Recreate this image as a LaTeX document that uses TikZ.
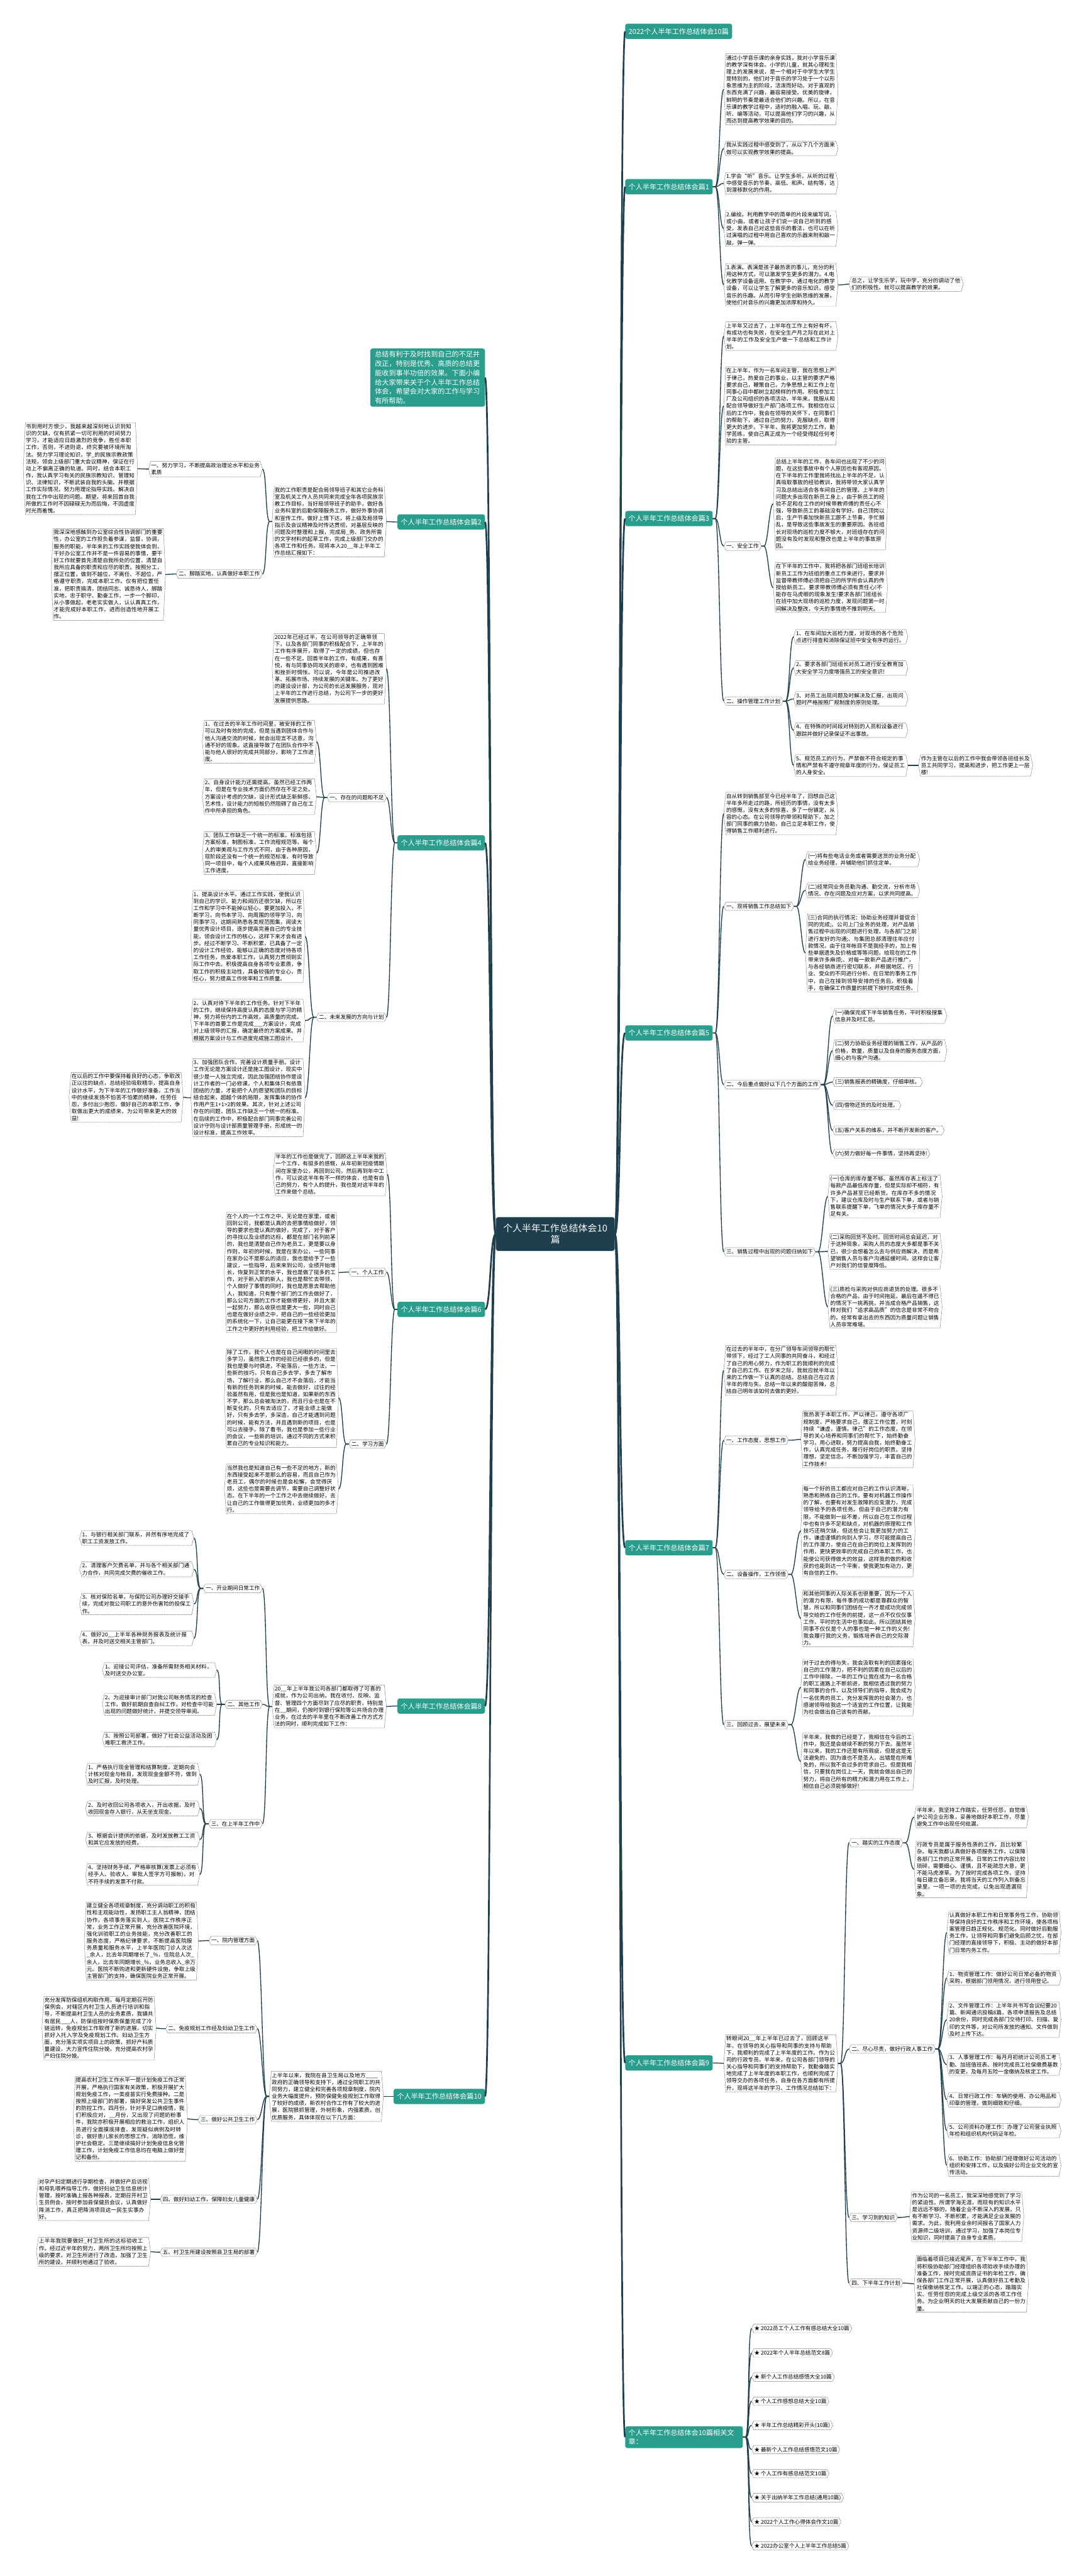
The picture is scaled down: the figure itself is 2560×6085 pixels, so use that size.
\documentclass[tikz,border=0pt]{standalone}
\usepackage{fontspec}
\setmainfont{Noto Sans CJK SC}
\XeTeXlinebreaklocale "zh"
\XeTeXlinebreakskip = 0pt plus 1pt
\definecolor{tealc}{HTML}{2A9D8C}
\definecolor{darkc}{HTML}{1F3E4E}
\definecolor{linec}{HTML}{1F3E4E}
\definecolor{hexc}{HTML}{555555}
\tikzset{
 tb/.style={text width=258pt, align=left, inner xsep=1pt, inner ysep=3pt, outer xsep=5pt, outer ysep=0pt, font=\fontsize{12.8pt}{16.6pt}\selectfont},
 sb/.style={align=left, inner xsep=1pt, inner ysep=4pt, outer xsep=5pt, outer ysep=0pt, font=\fontsize{12.8pt}{16.6pt}\selectfont},
 lab/.style={fill=tealc, text=white, rounded corners=5pt, inner xsep=8pt, inner ysep=0pt, minimum height=36pt, font=\fontsize{16.5pt}{20pt}\selectfont},
 hexln/.style={draw=hexc, line width=0.7pt, dash pattern=on 1.2pt off 0.8pt},
 cn/.style={draw=linec, line width=2pt},
 trunk/.style={draw=linec, line width=4pt},
}
\newcommand\hexa[1]{\draw[hexln] ([xshift=5pt]#1.north west) -- ([xshift=-5pt]#1.north east) -- (#1.east) -- ([xshift=-5pt]#1.south east) -- ([xshift=5pt]#1.south west) -- (#1.west) -- cycle;}
\newcommand\bxR[4]{\node[tb,anchor=west] (#1) at (#2,#3) {#4};\hexa{#1}}
\newcommand\bxL[4]{\node[tb,anchor=east] (#1) at (#2,#3) {#4};\hexa{#1}}
\newcommand\sxR[4]{\node[sb,anchor=west] (#1) at (#2,#3) {#4};\hexa{#1}}
\newcommand\sxL[4]{\node[sb,anchor=east] (#1) at (#2,#3) {#4};\hexa{#1}}
\newcommand\cR[2]{\draw[cn] (#1.east) -- ++(6,0) .. controls +(10,0) and +(-10,0) .. (#2.west);}
\newcommand\cL[2]{\draw[cn] (#1.west) -- ++(-6,0) .. controls +(-10,0) and +(10,0) .. (#2.east);}
\begin{document}
\begin{tikzpicture}[x=1pt,y=-1pt]
\useasboundingbox (0,0) rectangle (2560,6085);
% center
\node[fill=darkc, text=white, rounded corners=6pt, minimum width=281pt, minimum height=80pt, text width=262pt, align=center, font=\fontsize{22pt}{27pt}\selectfont] (c) at (1312,2915) {个人半年工作总结体会10\\篇};
% ===== RIGHT =====
\node[lab,anchor=west] (title) at (1477,74) {2022个人半年工作总结体会10篇};
\node[lab,anchor=west] (b1) at (1477,441) {个人半年工作总结体会篇1};
\node[lab,anchor=west] (b3) at (1477,1225) {个人半年工作总结体会篇3};
\node[lab,anchor=west] (b5) at (1477,2440) {个人半年工作总结体会篇5};
\node[lab,anchor=west] (b7) at (1477,3656) {个人半年工作总结体会篇7};
\node[lab,anchor=west] (b9) at (1477,4873) {个人半年工作总结体会篇9};
\node[lab,anchor=west,text width=262pt,align=left,inner ysep=8pt] (rel) at (1477,5757) {个人半年工作总结体会10篇相关文\\章：};
% b1
\bxR{b1a}{1710}{211}{通过小学音乐课的亲身实践，我对小学音乐课的教学深有体会。小学的儿童，就其心理和生理上的发展来说，是一个相对于中学生大学生是特别的，他们对于音乐的学习处于一个以形象思维为主的阶段，活泼而好动。对于直观的东西充满了兴趣，最容易接受。优美的旋律，鲜明的节奏是最适合他们的兴趣。所以，在音乐课的教学过程中，适时的融入唱、玩、敲、听、编等活动，可以提高他们学习的兴趣，从而达到提高教学效果的目的。}
\bxR{b1b}{1710}{351}{我从实践过程中感受到了，从以下几个方面来做可以实现教学效果的提高。}
\bxR{b1c}{1710}{433}{1.学会“听”音乐。让学生多听，从听的过程中感受音乐的节奏、高低、和声、结构等，达到潜移默化的作用。}
\bxR{b1d}{1710}{540}{2.编绘。利用教学中的简单的片段来编写词，或小曲，或者让孩子们说一说自己听到的感受，发表自己对这些音乐的看法，也可以在听过演唱的过程中用自己喜欢的乐器来附和敲一敲，弹一弹。}
\bxR{b1e}{1710}{673}{3.表演。表演是孩子最热衷的事儿，充分的利用这种方式，可以激发学生更多的潜力。4.电化教学设备运用。在教学中，通过电化的教学设备，可以让学生了解更多的音乐知识，感受音乐的乐趣。从而引导学生创新思维的发展，使他们对音乐的兴趣更加浓厚和持久。}
\bxR{b1e1}{2006}{671}{总之，让学生乐学，玩中学，充分的调动了他们的积极性。就可以提高教学的效果。}
% b3
\bxR{b3a}{1710}{794}{上半年又过去了，上半年在工作上有好有坏，有成功也有失败，在安全生产月之际在此对上半年的工作及安全生产做一下总结和工作计划。}
\bxR{b3b}{1710}{959}{在上半年，作为一名车间主管，我在思想上严于律己，热爱自己的事业，以主管的要求严格要求自己，鞭策自己，力争思想上和工作上在同事心目中都树立起榜样的作用。积极参加工厂及公司组织的各项活动，半年来，我服从和配合领导做好生产部门各项工作。我相信在以后的工作中，我会在领导的关怀下，在同事们的帮助下，通过自己的努力，克服缺点，取得更大的进步。下半年，我将更加努力工作，勤学苦练，使自己真正成为一个经受得起任何考验的主管。}
\sxR{b3c}{1710}{1290}{一、安全工作}
\bxR{b3c1}{1827}{1190}{总结上半年的工作，各车间也出现了不少的问题，在这些事故中有个人原因也有客观原因。在下半年的工作里我将找出上半年的不足，认真吸取事故的经验教训，我将带领大家认真学习及总结出适合各车间自己的管理。上半年的问题大多出现在新员工身上，由于新员工的经验不足和在工作的时候带教师傅的责任心不强，导致新员工的基础没有学好。自己顶岗以后，生产节奏加快新员工跟不上节奏，手忙脚乱，是导致这些事故发生的重要原因。各班组长对现场的巡检力度不够大，对班组存在的问题没有及时发现和整改也是上半年的事故原因。}
\bxR{b3c2}{1827}{1388}{在下半年的工作中，我将把各部门班组长培训新员工工作为班组的重点工作来进行，要求并监督带教师傅必须把自己的所学所会认真的传授给新员工。要求带教师傅必须有责任心!不能存在马虎眼的现象发生!要求各部门班组长在班中加大现场的巡检力度，发现问题第一时间解决及整改，今天的事情绝不推到明天。}
\sxR{b3d}{1710}{1656}{二、操作管理工作计划}
\bxR{b3d1}{1875}{1504}{1、在车间加大巡检力度，对现场的各个危险点进行排查和消除保证班中安全有序的运行。}
\bxR{b3d2}{1875}{1578}{2、要求各部门班组长对员工进行安全教育加大安全学习力度增强员工的安全意识!}
\bxR{b3d3}{1875}{1651}{3、对员工出现问题及时解决及汇报，出现问题时严格按照厂规制度的原则处理。}
\bxR{b3d4}{1875}{1725}{4、在特殊的时间段对特别的人员和设备进行跟踪并做好记录保证不出事故。}
\bxR{b3d5}{1875}{1808}{5、规范员工的行为，严禁做不符合规定的事情和严禁有不遵守规章年度的行为，保证员工的人身安全。}
\bxR{b3d5a}{2170}{1808}{作为主管在以后的工作中我会带领各班组长及员工共同学习，提高和进步，把工作更上一层楼!}
% b5
\bxR{b5a}{1710}{1922}{自从转到销售部至今已经半年了，回想自己这半年多所走过的路，所经历的事情，没有太多的感慨，没有太多的惊喜，多了一份镇定，从容的心态。在公司领导的带领和帮助下，加之部门同事的鼎力协助，自己立足本职工作，使得销售工作顺利进行。}
\sxR{b5b}{1710}{2141}{一、现将销售工作总结如下}
\bxR{b5b1}{1903}{2030}{(一)将有些电话业务或者需要送货的业务分配给业务经理，并辅助他们抓住定单。}
\bxR{b5b2}{1903}{2103}{(二)经常同业务员勤沟通、勤交流，分析市场情况、存在问题及应对方案，以求共同提高。}
\bxR{b5b3}{1903}{2251}{(三)合同的执行情况：协助业务经理并督促合同的完成;、公司上门业务的处理，对产品销售过程中出现的问题进行处理，与各部门之前进行友好的沟通;、与集团总部清理往年应付款情况，由于往年帐目不是我经手的，加上有些单据遗失及价格或等等问题，给现在的工作带来许多麻烦;、对每一款新产品进行推广，与各经销商进行密切联系，并根据地区、行业、受众的不同进行分析、在日常的事务工作中，自己在接到领导安排的任务后，积极着手，在确保工作质量的前提下按时完成任务。}
\sxR{b5c}{1710}{2562}{二、今后重点做好以下几个方面的工作}
\bxR{b5c1}{1967}{2400}{(一)确保完成下半年销售任务，平时积极搜集信息并及时汇总。}
\bxR{b5c2}{1967}{2482}{(二)努力协助业务经理的销售工作，从产品的价格，数量，质量以及自身的服务态度方面，细心的与客户沟通。}
\sxR{b5c3}{1967}{2556}{(三)销售报表的精确度，仔细审核。}
\sxR{b5c4}{1967}{2611}{(四)借物还货的及时处理。}
\sxR{b5c5}{1967}{2670}{(五)客户关系的维系，并不断开发新的客户。}
\sxR{b5c6}{1967}{2725}{(六)努力做好每一件事情，坚持再坚持!}
\sxR{b5d}{1710}{2957}{三、销售过程中出现的问题归纳如下}
\bxR{b5d1}{1956}{2826}{(一)仓库的库存量不够。虽然库存表上标注了每款产品最低库存量，但是实际却不相符，有许多产品甚至已经断货。在库存不多的情况下，建议仓库及时与生产联系下单，或者与销售联系提醒下单，飞单的情况大多于库存量不足有关。}
\bxR{b5d2}{1956}{2956}{(二)采购回货不及时。回货时间总会延迟，对于这种现象，采购人员的态度大多都是事不关已，很少会想着怎么去与供应商解决，而是希望销售人员与客户沟通延缓时间。这样会让客户对我们的信誉度降低。}
\bxR{b5d3}{1956}{3087}{(三)质检与采购对供应商退货的处理。很多不合格的产品，由于时间拖延，最后在逼不得已的情况下一挑再挑，并当成合格产品销售，这样对我们“追求高品质”的信念是非常不吻合的。经常有拿出去的东西因为质量问题让销售人员非常难堪。}
% b7
\bxR{b7a}{1710}{3237}{在过去的半年中，在分厂领导车间领导的帮忙带领下，经过了工人同事的共同奋斗，和经过了自己的用心努力，作为职工的我顺利的完成了自己的工作。在岁末之际，我就应就半年以来的工作做一下认真的总结。总结自己在过去半年的得与失，总结一年以来的酸甜苦辣，总结自己明年该如何去做的更好。}
\sxR{b7b}{1710}{3402}{一、工作态度，思想工作}
\bxR{b7b1}{1892}{3400}{我热衷于本职工作，严以律己，遵守各项厂规制度，严格要求自己，摆正工作位置，时刻持续“谦虚，谨慎，律己”的工作态度，在领导的关心培养和同事们的帮忙下，始终勤奋学习，用心进取，努力提高自我，始终勤奋工作，认真完成任务，履行好岗位的职责。坚持理想，坚定信念。不断加强学习，丰富自己的工作技术!}
\sxR{b7c}{1710}{3719}{二、设备操作，工作领悟}
\bxR{b7c1}{1892}{3616}{每一个好的员工都应对自己的工作认识清晰，熟悉和熟练自己的工作。要有对机器工作操作的了解，也要有对发生故障的应变潜力，完成领导给予的各项任务。但由于自己的潜力有限，不能做到一丝不差，所以自己在工作过程中也有许多不足和缺点，对机器的原理和工作技巧还稍欠缺，但这些会让我更加努力的工作，谦虚谨慎的向别人学习，尽可能提高自己的工作潜力，使自己在自己的岗位上发挥到的作用，更快更效率的完成自己的本职工作，也能使公司获得做大的效益，这样我的做的和收获的也能到达一个平衡，使我更加有动力，更有自信的工作。}
\bxR{b7c2}{1892}{3823}{和其他同事的人际关系也很重要，因为一个人的潜力有限，每件事的成功都是靠群众的智慧，所以和同事们团结在一齐才是成功完成领导交给的工作任务的前提，这一点不仅仅仅事工作，平时的生活中也事如此，所以团结其他同事不仅仅是个人的事也是一种工作的义务!我会履行我的义务，锻炼培养自己的交际潜力。}
\sxR{b7d}{1710}{4074}{三、回顾过去，展望未来}
\bxR{b7d1}{1892}{3986}{对于过去的得与失，我会汲取有利的因素强化自己的工作潜力，把不利的因素在自己以后的工作中排除，一年的工作让我在成为一名合格的职工道路上不断前进，我相信透过我的努力和同事的合作，以及领导们的指导，我会成为一名优秀的员工，充分发挥我的社会潜力，也感谢领导给我这一个适宜的工作位置，让我能为社会做出自己该有的贡献。}
\bxR{b7d2}{1892}{4161}{半年来，我做的已经是了，我相信在今后的工作中，我还是会继续不断的努力下去。虽然半年以来，我的工作还是有所瑕疵，但是这是无法避免的，因为谁也不是圣人，出错是在所难免的，所以我不会过多的苛求自己。但是我相信，只要我在岗位上一天，我就会做出自己的努力，将自己所有的精力和潜力用在工作上，相信自己必须能够做好!}
% b9
\bxR{b9a}{1710}{4874}{转眼间20\_\_年上半年已过去了，回顾这半年，在领导的关心指导和同事的支持与帮助下，我顺利的完成了上半年度的工作。作为公司的行政专员，半年来，在公司各部门领导的关心指导和同事们的支持帮助下，我勤奋踏实地完成了上半年度的本职工作，也顺利完成了领导交办的各项任务，自身在各方面都有所提升，现将这半年的学习、工作情况总结如下：}
\sxR{b9b}{2006}{4353}{一、踏实的工作态度}
\bxR{b9b1}{2160}{4292}{半年来，我坚持工作踏实，任劳任怨，自觉维护公司企业形象，妥善地做好本职工作，尽量避免工作中出现任何纰漏。}
\bxR{b9b2}{2160}{4416}{行政专员是属于服务性质的工作，且比较繁杂。每天我都认真做好各项服务工作，以保障各部门工作的正常开展。日常的工作内容比较琐碎，需要细心、谨慎，且不能疏忽大意，更不能马虎潦草。为了按时完成各项工作，坚持每日建立备忘录。我将当天的工作列入到备忘录里，一项一项的去完成，以免出现遗漏现象。}
\sxR{b9c}{2006}{4840}{二、尽心尽责，做好行政人事工作}
\bxR{b9c1}{2237}{4565}{认真做好本职工作和日常事务性工作，协助领导保持良好的工作秩序和工作环境，使各项档案管理日趋正规化、规范化。同时做好后勤服务工作，让领导和同事们避免后顾之忧，在部门经理的直接领导下，积极、主动的做好本部门日常内务工作。}
\bxR{b9c2}{2237}{4672}{1、物资管理工作：做好公司日常必备的物资采购，根据部门领用情况，进行领用登记。}
\bxR{b9c3}{2237}{4771}{2、文件管理工作：上半年共书写会议纪要20篇、新闻通讯投稿8篇，各项申请报告及总结20余份，同时完成各部门交待打印、扫描、复印的文件等，对公司所发放的通知、文件做到及时上传下达。}
\bxR{b9c4}{2237}{4877}{3、人事管理工作：每月月初统计公司员工考勤、加班值班表、按时完成员工社保缴费基数的变更，及每月五险一金缴纳及核定工作。}
\bxR{b9c5}{2237}{4960}{4、日常行政工作：车辆的使用、办公用品和印章的管理，做到细致和仔细。}
\bxR{b9c6}{2237}{5033}{5、公司资料办理工作：办理了公司营业执照年检和组织机构代码证年检。}
\bxR{b9c7}{2237}{5115}{6、协助工作：协助部门经理做好公司活动的组织和安排工作，以及搞好公司企业文化的宣传活动。}
\sxR{b9d}{2006}{5238}{三、学习到的知识}
\bxR{b9d1}{2149}{5236}{作为公司的一名员工，我深深地感觉到了学习的紧迫性。所谓学海无涯，而现有的知识水平是远远不够的，随着企业不断深入的发展，只有不断学习、不断积累，才能满足企业发展的需求。为此，我利用业余时间报名了国家人力资源师二级培训，通过学习，加强了本岗位专业知识，同时提高了自身专业素质。}
\sxR{b9e}{2006}{5393}{四、下半年工作计划}
\bxR{b9e1}{2160}{5395}{面临着项目已接近尾声，在下半年工作中，我将积极协助部门经理组织各项验收手续办理的准备工作，按时完成资质证书的年检工作，确保各部门工作正常开展，认真做好员工考勤及社保缴纳核定工作。以端正的心态，踏踏实实、任劳任怨的完成上级交派的各项工作任务。为企业明天的壮大发展贡献自己的一份力量。}
% related
\sxR{rel1}{1776}{5500}{★ 2022员工个人工作有感总结大全10篇}
\sxR{rel2}{1776}{5558}{★ 2022年个人半年总结范文8篇}
\sxR{rel3}{1776}{5615}{★ 新个人工作总结感悟大全10篇}
\sxR{rel4}{1776}{5672}{★ 个人工作感想总结大全10篇}
\sxR{rel5}{1776}{5729}{★ 半年工作总结精彩开头(10篇)}
\sxR{rel6}{1776}{5786}{★ 最新个人工作总结感悟范文10篇}
\sxR{rel7}{1776}{5843}{★ 个人工作有感总结范文10篇}
\sxR{rel8}{1776}{5900}{★ 关于出纳半年工作总结(通用10篇)}
\sxR{rel9}{1776}{5957}{★ 2022个人工作心得体会作文10篇}
\sxR{rel10}{1776}{6014}{★ 2022办公室个人上半年工作总结5篇}
% ===== LEFT =====
\node[fill=tealc, text=white, rounded corners=5pt, anchor=east, text width=249pt, align=left, inner xsep=11pt, inner ysep=6pt, font=\fontsize{16.5pt}{22pt}\selectfont] (intro) at (1146,892) {总结有利于及时找到自己的不足并改正，特别是优秀、高质的总结更能收到事半功倍的效果。下面小编给大家带来关于个人半年工作总结体会，希望会对大家的工作与学习有所帮助。};
\node[lab,anchor=east] (a2) at (1146,1233) {个人半年工作总结体会篇2};
\node[lab,anchor=east] (a4) at (1146,1991) {个人半年工作总结体会篇4};
\node[lab,anchor=east] (a6) at (1146,3093) {个人半年工作总结体会篇6};
\node[lab,anchor=east] (a8) at (1146,4030) {个人半年工作总结体会篇8};
\node[lab,anchor=east] (a10) at (1146,4952) {个人半年工作总结体会篇10};
% a2
\bxL{a2a}{913}{1232}{我的工作职责是配合局领导班子和其它业务科室及机关工作人员共同来完成全年各项民族宗教工作目标，当好局领导班子的助手，做好各业务科室的后勤保障服务工作，做好外事协调和宣传工作。做好上情下达，将上级及局领导指示及会议精神及时传达贯彻，对基层反映的问题及时整理和上报，完成局\_务、政务所需的文字材料的起草工作，完成上级部门交办的各项工作和任务。现将本人20\_\_年上半年工作总结汇报如下：}
\node[sb,anchor=east,text width=257pt] (a2b) at (620,1108) {一、努力学习，不断提高政治理论水平和业务素质};\hexa{a2b}
\bxL{a2b1}{325}{1107}{书到用时方恨少，我越来越深刻地认识到知识的欠缺，仅有抓紧一切可利用的时间努力学习，才能适应日趋激烈的竞争，胜任本职工作，否则，不进则退，终究要被环境所淘汰。努力学习理论知识，学\_的民族宗教政策法规，领会上级部门重大会议精神，保证在行动上不偏离正确的轨道。同时，结合本职工作，我认真学习有关的民族宗教知识、管理知识、法律知识，不断武装自我的头脑。并根据工作实际情况，努力用理论指导实践。解决自我在工作中出现的问题。期望，将来回首自我所做的工作时不因碌碌无为而后悔，不因虚度时光而羞愧。}
\sxL{a2c}{620}{1356}{二、脚踏实地，认真做好本职工作}
\bxL{a2c1}{391}{1357}{我深深地感触到办公室综合性协调部门的重要性，办公室的工作担负着参谋，监督，协调，服务的职能，半年来的工作实践使我体会到，干好办公室工作并不是一件容易的事情，要干好工作就要首先清楚自我所处的位置，清楚自我所应具备的职责和应尽的职责。按照分工，摆正位置，做到不越位，不离任、不超位，严格遵守职责，完成本职工作。仅有把位置任准，把职责搞清，团结同志、诚恳待人，脚踏实地，忠于职守、勤奋工作，一步一个脚印，从小事做起，老老实实做人，认认真真工作，才能完成好本职工作，进而创造性地开展工作。}
% a4
\bxL{a4a}{913}{1580}{2022年已经过半，在公司领导的正确带领下，以及各部门同事的积极配合下，上半年的工作有序展开，取得了一定的成绩，但也存在一些不足。回首半年的工作，有成果，有喜悦，有与同事协同攻关的艰辛，也有遇到困难和挫折时惆怅。可以说，今年是公司推进改革、拓展市场、持续发展的关键年。为了更好的建设设计部，为公司的长远发展服务，现对上半年的工作进行总结，为公司下一步的更好发展提供思路。}
\sxL{a4b}{913}{1884}{一、存在的问题和不足}
\bxL{a4b1}{748}{1752}{1、在过去的半年工作时间里，被安排的工作可以及时有效的完成，但是当遇到团体合作与他人沟通交流的时候，就会出现言不达意，沟通不好的现象。这直接导致了在团队合作中不能与他人很好的完成共同部分，影响了工作进度。}
\bxL{a4b2}{748}{1882}{2、自身设计能力还需提高。虽然已经工作两年，但是在专业技术方面仍然存在不足之处。方案设计考虑的欠缺，设计形式缺乏新鲜感、艺术性，设计能力的短板仍然阻碍了自己在工作中所承担的角色。}
\bxL{a4b3}{748}{2015}{3、团队工作缺乏一个统一的标准。标准包括方案标准，制图标准，工作流程规范等。每个人的审美观与工作方式不同，由于各种原因，现阶段还没有一个统一的规范标准，有时导致同一项目中，每个人成果风格迥异，直接影响工作进度。}
\sxL{a4c}{913}{2403}{二、未来发展的方向与计划}
\bxL{a4c1}{721}{2212}{1、提高设计水平。通过工作实践，使我认识到自己的学识、能力和阅历还很欠缺，所以在工作和学习中不能掉以轻心，要更加投入，不断学习，向书本学习、向周围的领导学习，向同事学习，这期间熟悉各类规范图集，阅读大量优秀设计项目，逐步提高完善自己的专业技能，领会设计工作的核心，这样下来才会有进步。经过不断学习、不断积累，已具备了一定的设计工作经验，能够以正确的态度对待各项工作任务，热爱本职工作，认真努力贯彻到实际工作中去。积极提高自身各项专业素质，争取工作的积极主动性，具备较强的专业心，责任心，努力提高工作效率和工作质量。}
\bxL{a4c2}{721}{2411}{2、认真对待下半年的工作任务。针对下半年的工作，继续保持高度认真的态度与学习的精神，努力将份内的工作高效，高质量的完成。下半年的首要工作是完成\_\_\_方案设计，完成对上级领导的汇报，确定最终的方案成果。并根据方案设计与工作进度完成施工图设计。}
\bxL{a4c3}{721}{2593}{3、加强团队合作，完善设计质量手册。设计工作无论是方案设计还是施工图设计，现实中很少是一人独立完成，因此加强团结协作是设计工作者的一门必修课。个人和集体只有依靠团结的力量，才能把个人的愿望和团队的目标结合起来，超越个体的局限，发挥集体的协作作用产生1+1>2的效果。其次，针对上述公司存在的问题，团队工作缺乏一个统一的标准。在后续的工作中，积极配合部门同事完善公司设计守则与设计部质量管理手册，形成统一的设计标准，提高工作效率。}
\bxL{a4c3a}{433}{2592}{在以后的工作中要保持着良好的心态，争取改正以往的缺点，总结经验吸取精华，提高自身设计水平，为下半年的工作做好准备。工作当中的继续发扬不怕苦不怕累的精神，任劳任怨，多付出少抱怨，做好自己的本职工作，争取做出更大的成绩来，为公司带来更大的效益!}
% a6
\bxL{a6a}{915}{2774}{半年的工作也是做完了，回顾这上半年来我的一个工作，有挺多的感慨，从年初新冠疫情期间在家里办公，再回到公司，然后再到年中工作，可以说这半年有不一样的体会，也是有自己的努力，有个人的提升，我也是对这半年的工作来做个总结。}
\sxL{a6b}{913}{3005}{一、个人工作}
\bxL{a6b1}{800}{3006}{在个人的一个工作之中，无论是在家里，或者回到公司，我都是认真的去把事情给做好，领导的要求也是认真的做好，完成了，对于客户的寻找以及业绩的达标，都是在部门名列前茅的，我也是清楚自己作为老员工，更是要以身作则，年初的时候，我是在家办公，一些同事在家办公不是那么的适应，我也是给予了一些建议，一些指导，后来来到公司，业绩开始增长，恢复到正常的水平，我也是做了挺多的工作，对于新入职的新人，我也是帮忙去带领，个人做好了事情的同时，我也是愿意去帮助他人，我知道，只有整个部门的工作去做好了，那么公司方面的工作才能做得更好，并且大家一起努力，那么收获也是更大一些，同时自己也是在做好业绩之中，把自己的一些经验更加的系统化一下，让自己能更在接下来下半年的工作之中更好的利用经验，把工作给做好。}
\sxL{a6c}{913}{3411}{二、学习方面}
\bxL{a6c1}{800}{3302}{除了工作，我个人也是在自己闲暇的时间里去多学习，虽然我工作的经验已经很多的，但是我也是要与时俱进，不能落后，一些方法，一些新的技巧，只有自己多去学，多去了解市场，了解行业，那么自己才不会落后，才能当有新的任务到来的时候，能去做好，过往的经验虽然有用，但是我也是知道，如果新的东西不学，那么总会被淘汰的，而且行业也是在不断变化的，只有去适应了，才能业绩上能做好，只有多去学，多深造，自己才能遇到问题的时候，能有方法，并且遇到新的项目，也是可以去接手。除了看书，我也是参加一些行业的会议，一些新的培训，通过不同的方式来积累自己的专业知识和能力。}
\bxL{a6c2}{800}{3517}{当然我也是知道自己有一些不足的地方，新的东西接受起来不是那么的容易，而且自己作为老员工，偶尔的时候也是会松懈，会觉得厌烦，这些也是需要去调节，需要自己调整好状态。在下半年的一个工作之中去继续做好，去让自己的工作做得更加优秀，业绩更加的多才行。}
% a8
\bxL{a8a}{913}{4031}{20\_\_年上半年我公司各部门都取得了可喜的成就，作为公司出纳，我在收付、反映、监督、管理四个方面尽到了应尽的职责，特别是在\_\_期间，仍按时到银行保险等公共场合办理业务，在过去的半年里在不断改善工作方式方法的同时，顺利完成如下工作：}
\sxL{a8b}{620}{3752}{一、开业期间日常工作}
\bxL{a8b1}{458}{3633}{1、与银行相关部门联系，并然有序地完成了职工工资发放工作。}
\bxL{a8b2}{458}{3707}{2、清理客户欠费名单，并与各个相关部门通力合作，共同完成欠费的催收工作。}
\bxL{a8b3}{458}{3789}{3、核对保险名单，与保险公司办理好交接手续，完成对我公司职工的意外伤害险的投保工作。}
\bxL{a8b4}{458}{3870}{4、做好20\_\_上半年各种财务报表及统计报表，并及时送交相关主管部门。}
\sxL{a8c}{620}{4026}{二、其他工作}
\bxL{a8c1}{512}{3945}{1、迎接公司评估，准备所需财务相关材料，及时送交办公室。}
\bxL{a8c2}{512}{4026}{2、为迎接审计部门对我公司帐务情况的检查工作，做好前期自查自纠工作，对检查中可能出现的问题做好统计，并提交领导审阅。}
\bxL{a8c3}{512}{4109}{3、按照公司部署，做好了社会公益活动及困难职工救济工作。}
\sxL{a8d}{620}{4308}{三、在上半年工作中}
\bxL{a8d1}{472}{4191}{1、严格执行现金管理和结算制度，定期向会计核对现金与帐目，发现现金金额不符，做到及时汇报，及时处理。}
\bxL{a8d2}{472}{4272}{2、及时收回公司各项收入，开出收据，及时收回现金存入银行，从无坐支现金。}
\bxL{a8d3}{472}{4345}{3、根据会计提供的依据，及时发放教工工资和其它应发放的经费。}
\bxL{a8d4}{472}{4428}{4、坚持财务手续，严格审核算(发票上必须有经手人、验收人、审批人签字方可报帐)，对不符手续的发票不付款。}
% a10
\bxL{a10a}{906}{4952}{上半年以来，我院在县卫生局以及地方\_\_\_\_政府的正确领导和支持下，通过全院职工的共同努力，建立健全和完善各项规章制度，院内业务大幅度提升，预防保健免疫规划工作取得了较好的成绩，新农村合作工作有了较大的进展，医院狠抓管理，外树形象，内强素质，创优质服务，具体体现在以下几方面：}
\sxL{a10b}{608}{4584}{一、院内管理方面}
\bxL{a10b1}{469}{4585}{建立健全各项规章制度，充分调动职工的积极性和主观能动性，发扬职工主人翁精神，团结协作，各项事务落实到人，医院工作秩序正常，业务工作正常开展，充分改善医院环境，强化训验职工的业务技能，充分改善职工的服务态度，严格纪律要求，不断提高医院服务质量和服务水平，上半年医院门诊人次达\_余人，比去年同期增长了\_\%，住院总人次\_余人，比去年同期增长\_\%，业务总收入\_余万元。医院不断购进和更新硬件设施，争取上级主管部门的支持，确保医院业务正常开展。}
\sxL{a10c}{608}{4792}{二、免疫规划工作经及妇幼卫生工作}
\bxL{a10c1}{369}{4791}{充分发挥防保组机构取作用，每月定期召开防保例会，对辖区内村卫生人员进行培训和指导，不断提高村卫生人员的业务素质，我镇共有居民\_\_\_人，防保组按时保质保量完成了冷链运转，免疫规划工作取得了新的进展，切实抓好入托入学及免疫规划工作。妇幼卫生方面，充分落实项实项目上的政策，抓好产科质量建设，大力宣传住院分娩，充分提高农村孕产妇住院分娩。}
\sxL{a10d}{608}{5007}{三、做好公共卫生工作}
\bxL{a10d1}{443}{5005}{提高农村卫生工作水平一是计划免疫工作正常开展，严格执行国家有关政策，积极开展扩大规划免疫工作，一类疫苗实行免费接种。二是按照上级部门的部署，搞好突发公共卫生事件的防控工作，四月份，针对手足口病疫情，我们积极应对，\_\_月份，又出现了问题奶粉事件，我院亦积极开展相应的救治工作，组织人员进行全面摸底排查，发现疑似病例及时转诊，做好患儿家长的思想工作，消除恐慌，维护社会稳定。三是继续搞好计划免疫信息化管理工作，计划免疫工作信息均在电脑上做好登记和备份。}
\sxL{a10e}{608}{5195}{四、做好妇幼工作，保障妇女儿童健康}
\bxL{a10e1}{356}{5195}{对孕产妇定期进行孕期检查，并做好产后访视和母乳喂养指导工作，做好妇幼卫生信息统计管理，按时准确上报各种报表，定期召开村卫生员例会，按时参加县保健员会议，认真做好降消工作，真正把降消项目这一民生实事办好。}
\sxL{a10f}{608}{5320}{五、村卫生所建设按照县卫生局的部署}
\bxL{a10f1}{356}{5319}{上半年我院要做好\_村卫生所的达标验收工作。经过近半年的努力，两所卫生所均按照上级的要求，对卫生所进行了改造，加强了卫生所的建设，并顺利地通过了验收。}
% ===== connectors =====
\foreach \n in {title,b1,b3,b5,b7,b9,rel} {\draw[trunk] (c.east) .. controls +(14,0) and +(-14,0) .. (\n.west);}
\foreach \n in {intro,a2,a4,a6,a8,a10} {\draw[trunk] (c.west) .. controls +(-14,0) and +(14,0) .. (\n.east);}
\foreach \n in {b1a,b1b,b1c,b1d,b1e} {\cR{b1}{\n}}
\cR{b1e}{b1e1}
\foreach \n in {b3a,b3b,b3c,b3d} {\cR{b3}{\n}}
\foreach \n in {b3c1,b3c2} {\cR{b3c}{\n}}
\foreach \n in {b3d1,b3d2,b3d3,b3d4,b3d5} {\cR{b3d}{\n}}
\cR{b3d5}{b3d5a}
\foreach \n in {b5a,b5b,b5c,b5d} {\cR{b5}{\n}}
\foreach \n in {b5b1,b5b2,b5b3} {\cR{b5b}{\n}}
\foreach \n in {b5c1,b5c2,b5c3,b5c4,b5c5,b5c6} {\cR{b5c}{\n}}
\foreach \n in {b5d1,b5d2,b5d3} {\cR{b5d}{\n}}
\foreach \n in {b7a,b7b,b7c,b7d} {\cR{b7}{\n}}
\cR{b7b}{b7b1}
\foreach \n in {b7c1,b7c2} {\cR{b7c}{\n}}
\foreach \n in {b7d1,b7d2} {\cR{b7d}{\n}}
\cR{b9}{b9a}
\foreach \n in {b9b,b9c,b9d,b9e} {\cR{b9a}{\n}}
\foreach \n in {b9b1,b9b2} {\cR{b9b}{\n}}
\foreach \n in {b9c1,b9c2,b9c3,b9c4,b9c5,b9c6,b9c7} {\cR{b9c}{\n}}
\cR{b9d}{b9d1}
\cR{b9e}{b9e1}
\foreach \n in {rel1,rel2,rel3,rel4,rel5,rel6,rel7,rel8,rel9,rel10} {\cR{rel}{\n}}
\cL{a2}{a2a}
\foreach \n in {a2b,a2c} {\cL{a2a}{\n}}
\cL{a2b}{a2b1}
\cL{a2c}{a2c1}
\foreach \n in {a4a,a4b,a4c} {\cL{a4}{\n}}
\foreach \n in {a4b1,a4b2,a4b3} {\cL{a4b}{\n}}
\foreach \n in {a4c1,a4c2,a4c3} {\cL{a4c}{\n}}
\cL{a4c3}{a4c3a}
\foreach \n in {a6a,a6b,a6c} {\cL{a6}{\n}}
\cL{a6b}{a6b1}
\foreach \n in {a6c1,a6c2} {\cL{a6c}{\n}}
\cL{a8}{a8a}
\foreach \n in {a8b,a8c,a8d} {\cL{a8a}{\n}}
\foreach \n in {a8b1,a8b2,a8b3,a8b4} {\cL{a8b}{\n}}
\foreach \n in {a8c1,a8c2,a8c3} {\cL{a8c}{\n}}
\foreach \n in {a8d1,a8d2,a8d3,a8d4} {\cL{a8d}{\n}}
\cL{a10}{a10a}
\foreach \n in {a10b,a10c,a10d,a10e,a10f} {\cL{a10a}{\n}}
\cL{a10b}{a10b1}
\cL{a10c}{a10c1}
\cL{a10d}{a10d1}
\cL{a10e}{a10e1}
\cL{a10f}{a10f1}
\end{tikzpicture}
\end{document}
